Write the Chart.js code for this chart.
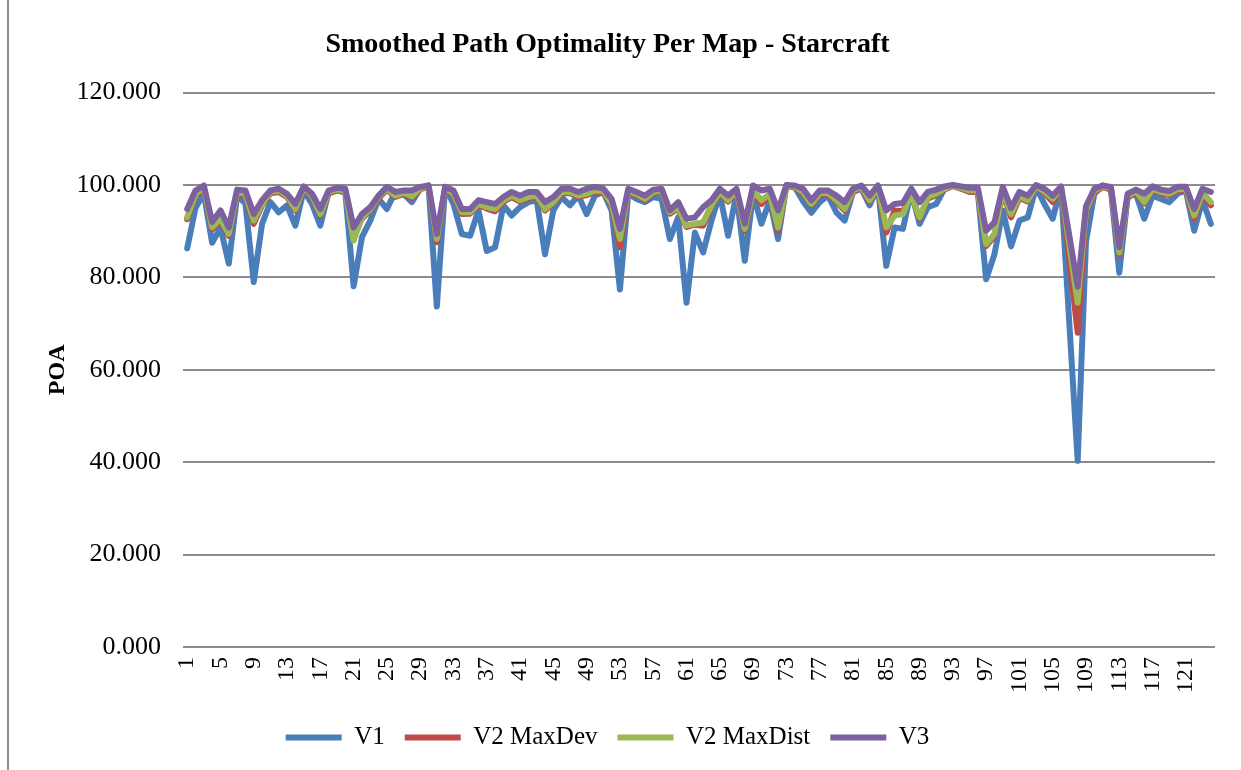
<!DOCTYPE html>
<html>
<head>
<meta charset="utf-8">
<title>Smoothed Path Optimality Per Map - Starcraft</title>
<script src="https://cdn.jsdelivr.net/npm/chart.js@4.4.1/dist/chart.umd.min.js"></script>
<style>
  html, body { margin: 0; padding: 0; background: #fff; }
  #wrap { width: 1241px; height: 770px; position: relative; }
</style>
</head>
<body>
<div id="wrap"><canvas id="poaChart"></canvas></div>
<script>
// map numbers along the x axis
var maps = Array.from({length: 124}, function(_, i) { return String(i + 1); });

var v1 = [
	86.3, 95.0, 98.2, 87.5, 90.8, 83.0, 97.7, 96.0, 79.0, 91.6,
	96.3, 94.1, 95.6, 91.2, 98.8, 95.9, 91.2, 98.5, 98.8, 98.5,
	78.1, 88.7, 92.3, 97.0, 94.8, 98.5, 98.1, 96.3, 99.2, 99.9,
	73.7, 99.6, 95.9, 89.4, 89.0, 94.5, 85.7, 86.5, 95.6, 93.4,
	95.2, 96.3, 96.7, 85.0, 94.5, 97.4, 95.6, 97.7, 93.7, 97.7,
	98.5, 94.5, 77.4, 98.1, 97.0, 96.3, 97.4, 97.0, 88.3, 93.0,
	74.5, 89.7, 85.4, 92.3, 98.1, 89.0, 98.1, 83.6, 98.1, 91.6,
	96.7, 88.3, 99.9, 99.6, 96.5, 94.0, 96.3, 97.7, 94.1, 92.3,
	98.5, 99.2, 95.6, 99.6, 82.5, 90.8, 90.5, 98.8, 91.6, 95.2,
	95.9, 99.2, 99.9, 99.2, 98.8, 98.5, 79.6, 85.0, 94.5, 86.7,
	92.3, 93.0, 99.6, 95.9, 92.7, 99.6, 70.0, 40.3, 87.8, 98.1,
	99.9, 98.8, 81.0, 97.4, 98.1, 92.7, 97.7, 97.0, 96.3, 98.1,
	98.8, 90.1, 96.7, 91.6
];

var v2MaxDev = [
	92.6, 97.7, 99.3, 90.4, 92.3, 89.0, 98.2, 97.8, 91.6, 95.6,
	98.2, 98.5, 97.4, 94.5, 99.3, 97.4, 93.4, 98.2, 98.8, 98.5,
	89.0, 92.7, 94.5, 97.1, 99.0, 97.4, 98.0, 97.2, 99.1, 99.7,
	87.6, 99.2, 97.8, 93.7, 93.8, 95.6, 94.9, 94.3, 96.4, 97.4,
	96.4, 97.1, 97.4, 94.5, 96.0, 98.2, 98.2, 97.4, 97.8, 98.5,
	98.4, 95.7, 86.5, 98.5, 97.7, 96.7, 98.2, 98.5, 93.8, 94.9,
	90.9, 91.4, 91.2, 95.3, 98.2, 96.4, 98.5, 90.0, 98.5, 95.9,
	97.8, 90.1, 99.8, 99.5, 98.2, 95.6, 97.9, 98.0, 96.4, 94.5,
	98.5, 99.4, 96.4, 99.4, 89.7, 94.5, 94.3, 97.8, 92.7, 97.1,
	97.8, 99.0, 99.8, 99.2, 98.5, 98.5, 86.8, 89.0, 98.5, 93.0,
	97.2, 96.4, 99.6, 98.3, 96.3, 99.3, 84.0, 68.0, 94.0, 98.5,
	99.5, 99.1, 85.0, 97.3, 98.3, 96.0, 98.9, 98.2, 97.8, 98.8,
	98.9, 92.7, 98.0, 95.6
];

var v2MaxDist = [
	93.0, 98.0, 99.5, 90.8, 92.7, 89.4, 98.5, 98.1, 92.3, 95.9,
	98.5, 98.8, 97.7, 94.8, 99.5, 97.7, 93.7, 98.5, 99.0, 98.8,
	88.0, 93.0, 94.8, 97.4, 99.2, 97.7, 98.3, 97.5, 99.3, 99.8,
	88.3, 99.4, 98.1, 94.1, 94.1, 95.9, 95.2, 94.8, 96.7, 97.7,
	96.7, 97.4, 97.7, 94.8, 96.3, 98.5, 98.5, 97.7, 98.1, 98.8,
	98.7, 96.0, 88.3, 98.8, 98.0, 97.0, 98.5, 98.8, 94.1, 95.2,
	91.2, 91.6, 91.9, 95.6, 98.5, 96.7, 98.8, 90.5, 98.8, 96.7,
	98.1, 90.8, 99.9, 99.7, 98.5, 95.9, 98.2, 98.3, 96.7, 94.8,
	98.8, 99.6, 96.7, 99.6, 90.8, 93.4, 93.7, 98.1, 93.0, 97.4,
	98.1, 99.2, 99.9, 99.4, 98.8, 98.8, 87.2, 89.4, 98.8, 93.7,
	97.6, 96.7, 99.8, 98.6, 97.0, 99.5, 87.0, 74.5, 94.5, 98.8,
	99.7, 99.3, 85.4, 97.6, 98.6, 96.3, 99.2, 98.5, 98.1, 99.1,
	99.2, 93.4, 98.3, 96.3
];

var v3 = [
	94.8, 98.8, 99.9, 92.0, 94.5, 90.8, 99.0, 98.8, 93.7, 96.7,
	98.8, 99.2, 98.1, 95.9, 99.7, 98.1, 94.8, 98.8, 99.4, 99.2,
	90.8, 93.7, 95.2, 97.7, 99.6, 98.5, 98.8, 98.8, 99.6, 99.9,
	89.4, 99.6, 98.8, 94.8, 94.8, 96.7, 96.3, 95.9, 97.4, 98.5,
	97.7, 98.5, 98.5, 96.3, 97.4, 99.2, 99.2, 98.5, 99.2, 99.6,
	99.2, 97.0, 90.5, 99.2, 98.5, 97.7, 99.0, 99.2, 94.5, 96.3,
	92.7, 93.0, 95.2, 96.7, 99.2, 97.7, 99.2, 91.6, 99.9, 98.8,
	99.2, 94.5, 100.0, 99.9, 99.2, 96.7, 98.8, 98.8, 97.7, 96.3,
	99.2, 99.9, 97.7, 99.9, 94.5, 95.9, 96.1, 99.2, 96.3, 98.5,
	99.0, 99.7, 100.0, 99.7, 99.4, 99.4, 90.1, 91.9, 99.6, 95.0,
	98.5, 97.7, 100.0, 99.2, 97.7, 99.7, 89.0, 78.0, 95.4, 99.2,
	99.9, 99.6, 86.5, 98.1, 99.0, 98.1, 99.7, 99.0, 98.7, 99.6,
	99.6, 94.8, 99.2, 98.5
];

var yTicks = [0, 20, 40, 60, 80, 100, 120];

var serif = "'Liberation Serif', 'Times New Roman', serif";

function series(label, data, color, order) {
	return {
		label: label,
		data: data,
		borderColor: color,
		backgroundColor: color,
		borderWidth: 6,
		borderCapStyle: 'round',
		borderJoinStyle: 'round',
		pointRadius: 0,
		pointHoverRadius: 0,
		tension: 0,
		fill: false,
		order: order
	};
}

// thin frame on the left side of the chart area
var framePlugin = {
	id: 'frame',
	beforeDraw: function(chart) {
		var ctx = chart.ctx;
		ctx.save();
		ctx.fillStyle = '#ffffff';
		ctx.fillRect(0, 0, chart.width, chart.height);
		ctx.strokeStyle = '#8c8c8c';
		ctx.lineWidth = 2;
		ctx.beginPath();
		ctx.moveTo(8, 0);
		ctx.lineTo(8, chart.height);
		ctx.stroke();
		ctx.restore();
	}
};

var ctx = document.getElementById('poaChart').getContext('2d');
var poaChart = new Chart(ctx, {
	type: 'line',
	data: {
		labels: maps,
		datasets: [
			series('V1', v1, '#4a7ebb', 4),
			series('V2 MaxDev', v2MaxDev, '#be4b48', 3),
			series('V2 MaxDist', v2MaxDist, '#98b954', 2),
			series('V3', v3, '#7d60a0', 1)
		]
	},
	options: {
		responsive: true,
		maintainAspectRatio: false,
		animation: false,
		events: [],
		layout: { padding: { left: 0, right: 26, top: 0, bottom: 10 } },
		plugins: {
			title: {
				display: true,
				text: 'Smoothed Path Optimality Per Map - Starcraft',
				color: '#000',
				font: { family: serif, size: 28, weight: 'bold', lineHeight: 1.2 },
				padding: { top: 28, bottom: 31 }
			},
			legend: {
				position: 'bottom',
				labels: {
					usePointStyle: true,
					pointStyle: 'line',
					pointStyleWidth: 56,
					boxHeight: 24,
					padding: 20,
					color: '#000',
					font: { family: serif, size: 25 },
					sort: function(a, b) { return a.datasetIndex - b.datasetIndex; }
				}
			},
			tooltip: { enabled: false }
		},
		scales: {
			x: {
				offset: true,
				grid: { display: false, drawTicks: false },
				border: { display: false },
				ticks: {
					autoSkip: false,
					minRotation: 90,
					maxRotation: 90,
					padding: 10,
					color: '#000',
					font: { family: serif, size: 24 },
					callback: function(value, index) {
						return index % 4 === 0 ? maps[index] : null;
					}
				},
				afterFit: function(scale) { scale.height = 58; }
			},
			y: {
				min: 0,
				max: 120,
				afterBuildTicks: function(scale) {
					scale.ticks = yTicks.map(function(v) { return { value: v }; });
				},
				grid: { color: '#8c8c8c', lineWidth: 2, drawTicks: false },
				border: { display: false },
				ticks: {
					padding: 22,
					color: '#000',
					font: { family: serif, size: 26 },
					callback: function(value) { return Number(value).toFixed(3); }
				},
				title: {
					display: true,
					text: 'POA',
					color: '#000',
					font: { family: serif, size: 24, weight: 'bold', lineHeight: 1.2 },
					padding: { top: 43, bottom: 0 }
				},
				afterFit: function(scale) { scale.width = 183; }
			}
		}
	},
	plugins: [framePlugin]
});
</script>
</body>
</html>
